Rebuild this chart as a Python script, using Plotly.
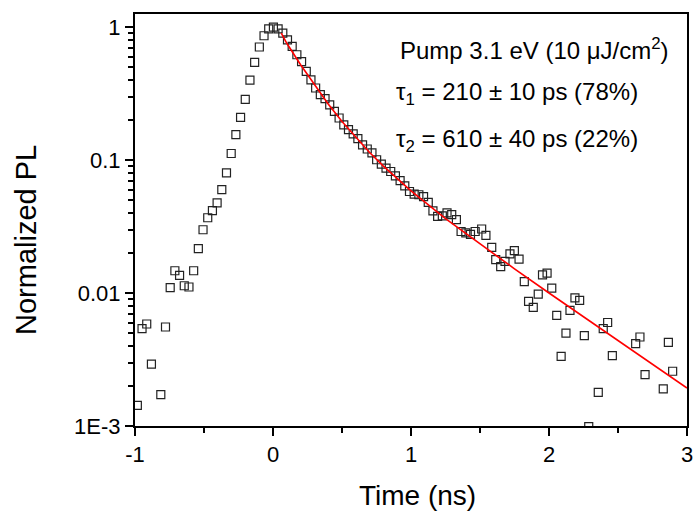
import plotly.graph_objects as go

# Measured PL decay (open squares)
time_ns = [
    -0.983, -0.949, -0.915, -0.881, -0.813, -0.779, -0.745, -0.711, -0.677, -0.643,
    -0.609, -0.575, -0.541, -0.507, -0.473, -0.439, -0.405, -0.371, -0.337, -0.303,
    -0.269, -0.235, -0.201, -0.167, -0.133, -0.099, -0.065, -0.031, 0.003, 0.037,
    0.071, 0.105, 0.139, 0.173, 0.207, 0.241, 0.275, 0.309, 0.343, 0.377,
    0.411, 0.445, 0.479, 0.513, 0.547, 0.581, 0.615, 0.649, 0.683, 0.717,
    0.751, 0.785, 0.819, 0.853, 0.887, 0.921, 0.955, 0.989, 1.023, 1.057,
    1.091, 1.125, 1.159, 1.193, 1.227, 1.261, 1.295, 1.329, 1.363, 1.397,
    1.431, 1.465, 1.512, 1.543, 1.585, 1.614, 1.650, 1.681, 1.717, 1.749,
    1.783, 1.821, 1.852, 1.886, 1.922, 1.953, 1.986, 2.020, 2.056, 2.088,
    2.123, 2.152, 2.188, 2.222, 2.256, 2.288, 2.357, 2.393, 2.425, 2.459,
    2.628, 2.659, 2.696, 2.828, 2.865, 2.896,
]
pl_norm = [
    0.00143, 0.0054, 0.00585, 0.00292, 0.00172, 0.00555, 0.01096, 0.0147, 0.01355, 0.01134,
    0.0111, 0.0147, 0.0216, 0.0299, 0.0368, 0.0416, 0.0477, 0.0598, 0.080, 0.112,
    0.155, 0.209, 0.286, 0.399, 0.542, 0.708, 0.86, 0.97, 1.0, 0.97,
    0.90, 0.80, 0.715, 0.619, 0.55, 0.464, 0.40, 0.348, 0.31, 0.29,
    0.26, 0.232, 0.207, 0.184, 0.169, 0.157, 0.145, 0.130, 0.121, 0.113,
    0.1005, 0.093, 0.087, 0.082, 0.076, 0.070, 0.064, 0.058, 0.0555, 0.0548,
    0.053, 0.048, 0.0415, 0.0377, 0.038, 0.040, 0.0388, 0.0356, 0.029, 0.0283,
    0.0276, 0.029, 0.0303, 0.0271, 0.022, 0.0178, 0.0158, 0.0173, 0.0197, 0.0208,
    0.018, 0.0122, 0.00865, 0.0078, 0.0098, 0.0137, 0.0141, 0.0109, 0.0068, 0.00334,
    0.0050, 0.0074, 0.0092, 0.0088, 0.00478, 0.00099, 0.00179, 0.0054, 0.0060, 0.00338,
    0.00416, 0.00467, 0.00243, 0.0019, 0.00425, 0.00258,
]

# Bi-exponential fit (red line)
fit_time = [0.06, 0.1, 0.2, 0.3, 0.4, 0.5, 0.6, 0.7, 0.8, 0.9, 1.0, 1.25, 1.5, 1.75, 2.0, 2.5, 3.0]
fit_pl = [0.90, 0.755, 0.52, 0.367, 0.264, 0.195, 0.148, 0.114, 0.090, 0.0722, 0.0586,
          0.0362, 0.0233, 0.0152, 0.0100, 0.00438, 0.00193]

y_tick_vals = [0.001, 0.01, 0.1, 1]
y_tick_text = ["1E-3", "0.01", "0.1", "1"]
x_tick_vals = [-1, 0, 1, 2, 3]
x_tick_text = ["-1", "0", "1", "2", "3"]
y_minor_vals = [m * d for d in (0.001, 0.01, 0.1) for m in range(2, 10)]

FONT = "Liberation Sans, Arial, Helvetica, sans-serif"

fig = go.Figure()
fig.add_trace(go.Scatter(
    x=time_ns, y=pl_norm, mode="markers",
    marker=dict(symbol="square-open", size=8, color="#222222", line=dict(width=1.2)),
    showlegend=False, hoverinfo="x+y",
))
fig.add_trace(go.Scatter(
    x=fit_time, y=fit_pl, mode="lines",
    line=dict(color="#ff0000", width=1.6),
    showlegend=False,
))

fig.update_layout(
    width=695, height=511, autosize=False,
    margin=dict(l=135, r=8, t=14, b=85, autoexpand=False),
    paper_bgcolor="white", plot_bgcolor="white",
    font=dict(family=FONT, color="black"),
    xaxis=dict(
        range=[-1, 3], tickvals=x_tick_vals, ticktext=x_tick_text, automargin=False,
        ticks="outside", ticklen=8, tickwidth=1.5, tickcolor="black",
        showline=True, linecolor="black", linewidth=2, mirror=True,
        showgrid=False, zeroline=False,
        tickfont=dict(size=22, family=FONT),
        minor=dict(dtick=0.5, ticks="outside", ticklen=5, tickwidth=1.5, tickcolor="black", showgrid=False),
    ),
    yaxis=dict(
        type="log", range=[-3, 0.098], tickvals=y_tick_vals, ticktext=y_tick_text, automargin=False,
        ticks="outside", ticklen=8, tickwidth=1.5, tickcolor="black",
        showline=True, linecolor="black", linewidth=2, mirror=True,
        showgrid=False, zeroline=False,
        tickfont=dict(size=22, family=FONT),
        minor=dict(tickvals=y_minor_vals, ticks="outside", ticklen=5, tickwidth=1.5, tickcolor="black", showgrid=False),
    ),
    annotations=[
        dict(text="Time (ns)", xref="paper", yref="paper", x=(418 - 135) / 552, y=(426 - 496) / 412,
             xanchor="center", yanchor="middle", showarrow=False, font=dict(size=28, family=FONT)),
        dict(text="Normalized PL", xref="paper", yref="paper", x=(26 - 135) / 552, y=(426 - 240) / 412,
             xanchor="center", yanchor="middle", textangle=-90, showarrow=False, font=dict(size=29, family=FONT)),
        dict(text="Pump 3.1 eV (10 μJ/cm<sup>2</sup>)", xref="paper", yref="paper",
             x=(398 - 135) / 552, y=(426 - 49) / 412, xanchor="left", yanchor="middle",
             showarrow=False, font=dict(size=24, family=FONT)),
        dict(text="τ<sub>1</sub> = 210 ± 10 ps (78%)", xref="paper", yref="paper",
             x=(394 - 135) / 552, y=(426 - 93) / 412, xanchor="left", yanchor="middle",
             showarrow=False, font=dict(size=24, family=FONT)),
        dict(text="τ<sub>2</sub> = 610 ± 40 ps (22%)", xref="paper", yref="paper",
             x=(394 - 135) / 552, y=(426 - 140) / 412, xanchor="left", yanchor="middle",
             showarrow=False, font=dict(size=24, family=FONT)),
    ],
)

fig.write_html(
    "out.html",
    config={"displayModeBar": False},
    post_script="document.body.style.margin='0';document.body.style.overflow='hidden';",
)
